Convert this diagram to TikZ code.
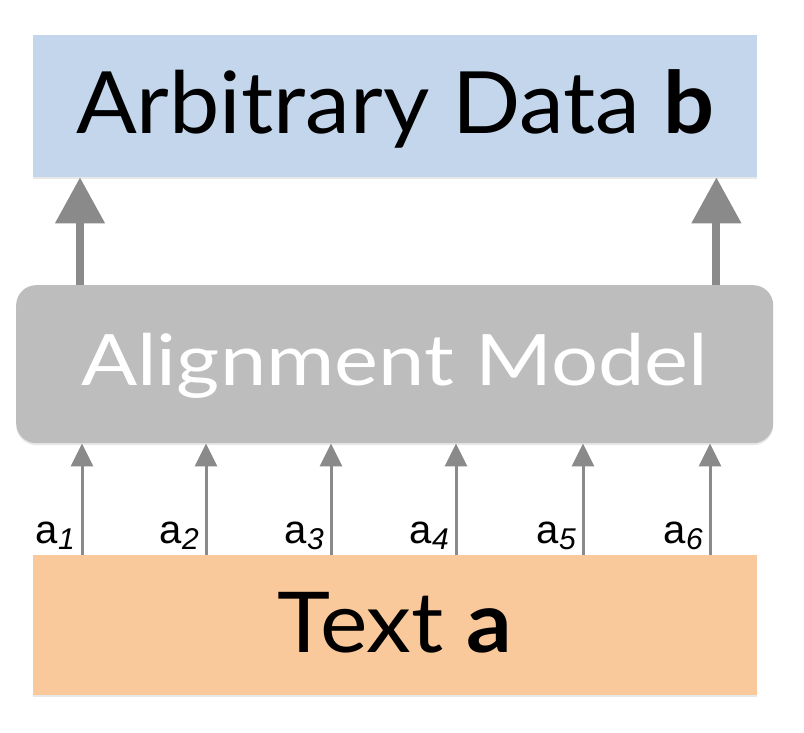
\documentclass[tikz,border=0pt]{standalone}
\usepackage{fontspec}
\setmainfont{Lato}
\newfontfamily\helv{Liberation Sans}
\usetikzlibrary{arrows.meta,shadows}
\definecolor{bluebox}{HTML}{C4D6EC}
\definecolor{graybox}{HTML}{BDBDBD}
\definecolor{orangebox}{HTML}{F9C89B}
\definecolor{arrowgray}{HTML}{8A8A8A}
\tikzset{
  boxshadow/.style={drop shadow={opacity=0.18, shadow xshift=0pt, shadow yshift=-2pt}},
  panel/.style={rectangle, inner sep=0pt, anchor=north west, boxshadow},
  bigarrow/.style={draw=arrowgray, line width=8pt, -{Triangle[length=46pt,width=48pt]}},
  smallarrow/.style={draw=arrowgray, line width=3pt, -{Triangle[length=23pt,width=22pt]}},
  lab/.style={font=\helv\fontsize{40}{40}\selectfont, inner sep=0pt, anchor=base east},
}
\newcommand{\subd}[1]{\raisebox{-6pt}{\fontsize{30}{30}\selectfont\itshape #1}}
\begin{document}
\begin{tikzpicture}[x=1pt,y=-1pt]
\useasboundingbox[fill=white] (0,0) rectangle (804,733);
\node[panel, fill=bluebox, minimum width=724pt, minimum height=142pt,
      text height=54pt, text depth=0pt, font=\fontsize{86}{86}\selectfont] (b) at (33,35) {\scalebox{1.045}[1]{Arbitrary Data \textbf{b}}};
\node[panel, fill=graybox, rounded corners=20pt, minimum width=757pt, minimum height=158pt,
      text height=42pt, text depth=0pt, text=white, font=\fontsize{71}{71}\selectfont] (m) at (16,285) {\scalebox{1.17}[1]{Alignment Model}};
\node[panel, fill=orangebox, minimum width=724pt, minimum height=140pt,
      text height=54pt, text depth=0pt, font=\fontsize{84}{84}\selectfont] (t) at (33,555) {\scalebox{1.07}[1]{Text \textbf{a}}};
\draw[bigarrow] ([xshift=64pt]m.north west) -- ([xshift=47pt]b.south west);
\draw[bigarrow] ([xshift=-57pt]m.north east) -- ([xshift=-41pt]b.south east);
\foreach \i/\dx in {1/49,2/173,3/298,4/423,5/550,6/677}{
  \draw[smallarrow] ([xshift=\dx pt]t.north west) -- ([xshift=\dx pt+17pt]m.south west);
  \node[lab] (a\i) at ([xshift=\dx pt-7pt, yshift=12pt]t.north west) {a\subd{\i}};
}
\end{tikzpicture}
\end{document}
